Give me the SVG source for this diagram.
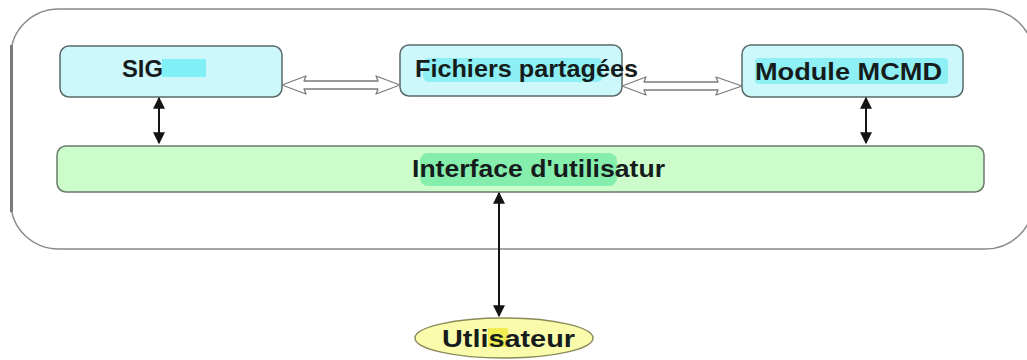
<svg xmlns="http://www.w3.org/2000/svg" width="1027" height="360" viewBox="0 0 1027 360">
  <style>
    .box { fill: #cdf8fb; stroke: #5a6a6a; stroke-width: 1.5; }
    .ui { fill: #ccfcc9; stroke: #6a7a6a; stroke-width: 1.5; }
    .user { fill: #fbfbac; stroke: #8a8a5a; stroke-width: 1.5; }
    .lbl { font-family: "Liberation Sans", Arial, sans-serif; font-weight: bold; font-size: 23px; fill: #161c1c; }
    .hollow { fill: #ffffff; stroke: #7a7a7a; stroke-width: 1.3; stroke-linejoin: round; }
    .link { stroke: #141414; stroke-width: 2; fill: none; marker-start: url(#head); marker-end: url(#head); }
  </style>
  <defs>
    <marker id="head" viewBox="0 0 10 10" refX="9" refY="5" markerWidth="6" markerHeight="6" orient="auto-start-reverse" markerUnits="strokeWidth">
      <path d="M0,0 L10,5 L0,10 Z" fill="#141414"/>
    </marker>
  </defs>

  <rect width="1027" height="360" fill="#ffffff"/>

  <!-- outer frame -->
  <g id="frame">
    <rect x="11" y="9" width="1022" height="240" rx="48" ry="46" fill="#ffffff" stroke="#8a8a8a" stroke-width="1.5"/>
    <line x1="11.5" y1="45" x2="11.5" y2="212" stroke="#7a7a7a" stroke-width="3"/>
  </g>

  <g id="sig">
    <rect class="box" x="60" y="46" width="222" height="51" rx="9"/>
    <rect x="162" y="59" width="44" height="18" fill="#80f0f6"/>
    <text class="lbl" x="122" y="77" font-size="21" textLength="41" lengthAdjust="spacingAndGlyphs">SIG</text>
  </g>

  <g id="fichiers">
    <rect class="box" x="400" y="45" width="222" height="51" rx="9"/>
    <rect x="423" y="58" width="180" height="24" rx="6" fill="#8ef0f4"/>
    <text class="lbl" x="415" y="77" textLength="223" lengthAdjust="spacingAndGlyphs">Fichiers partagées</text>
  </g>

  <g id="mcmd">
    <rect class="box" x="742" y="45" width="221" height="52" rx="9"/>
    <rect x="755" y="58" width="193" height="26" rx="4" fill="#8ef0f4"/>
    <text class="lbl" x="755" y="80" textLength="187" lengthAdjust="spacingAndGlyphs">Module MCMD</text>
  </g>

  <g id="interface">
    <rect class="ui" x="57" y="146" width="927" height="46" rx="9"/>
    <rect x="420" y="153" width="197" height="33" rx="8" fill="#86eeac"/>
    <text class="lbl" x="412" y="177" textLength="253" lengthAdjust="spacingAndGlyphs">Interface d'utilisatur</text>
  </g>

  <g id="utilisateur">
    <ellipse class="user" cx="504" cy="338" rx="89" ry="20"/>
    <rect x="488" y="328" width="20" height="19" fill="#f2ee52"/>
    <text class="lbl" x="442" y="347" textLength="133" lengthAdjust="spacingAndGlyphs">Utlisateur</text>
  </g>

  <g id="connectors">
    <!-- shared-file exchange arrows -->
    <path class="hollow" d="M282,85 L306,76 L304,81 L378,81 L376,76 L400,85 L376,94 L378,89 L304,89 L306,94 Z"/>
    <path class="hollow" d="M622,86 L646,77 L644,82 L718,82 L716,77 L742,86 L716,95 L718,90 L644,90 L646,95 Z"/>
    <!-- vertical links -->
    <line class="link" x1="159" y1="98" x2="159" y2="143"/>
    <line class="link" x1="866" y1="98" x2="866" y2="143"/>
    <line class="link" x1="499" y1="193" x2="499" y2="316"/>
  </g>
</svg>
